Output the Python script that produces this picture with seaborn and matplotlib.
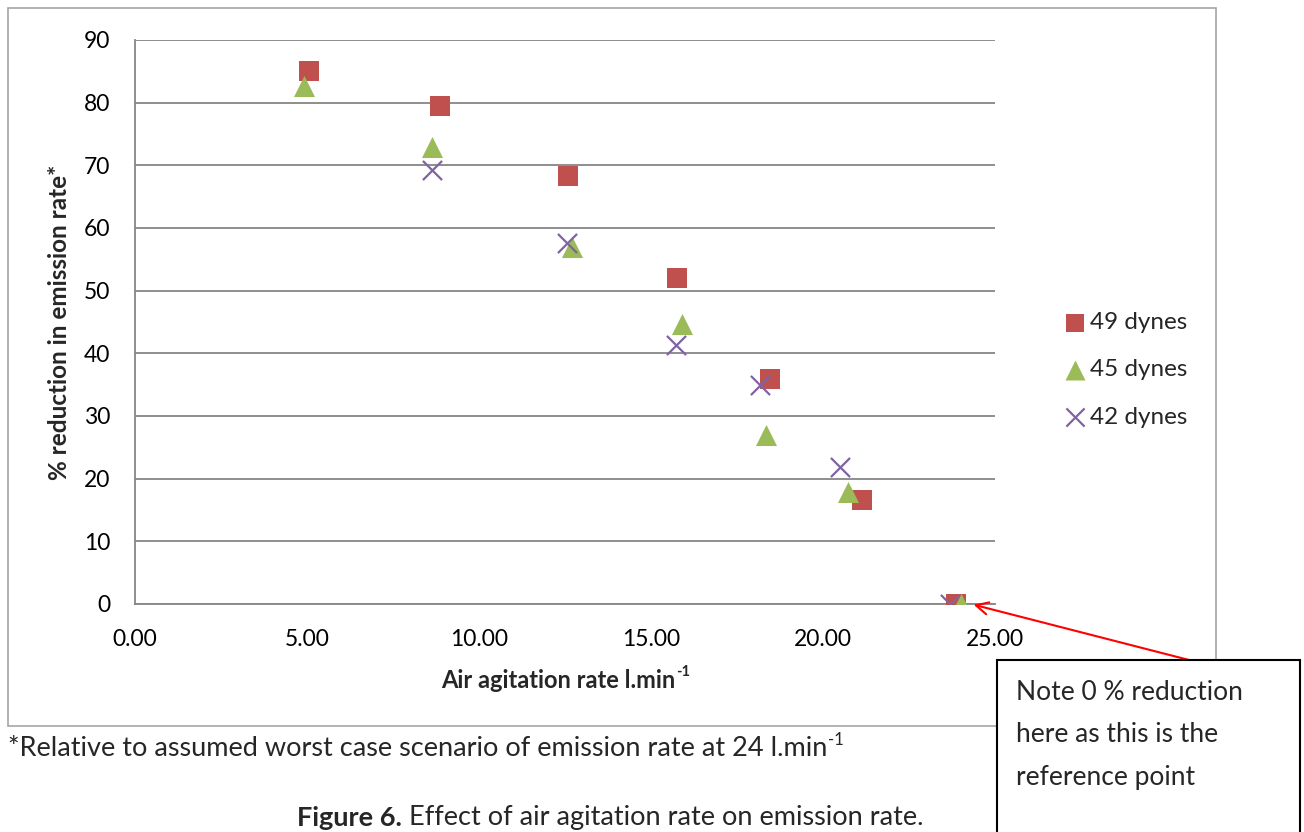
import matplotlib
matplotlib.use("Agg")
import matplotlib.pyplot as plt
from matplotlib.patches import Rectangle
import seaborn as sns
import pandas as pd

# Air agitation rate (l/min) and % reduction in emission rate for each surface tension
x_49 = [5.06, 8.87, 12.59, 15.77, 18.46, 21.12, 23.88]
y_49 = [85.0, 79.5, 68.3, 52.1, 35.9, 16.6, 0.0]
x_45 = [4.91, 8.63, 12.70, 15.91, 18.33, 20.72, 24.00]
y_45 = [82.7, 73.0, 57.0, 44.7, 26.9, 17.8, 0.0]
x_42 = [8.63, 12.55, 15.72, 18.17, 20.49, 23.70]
y_42 = [69.3, 57.6, 41.4, 34.9, 21.9, 0.0]
series_names = ["49 dynes", "45 dynes", "42 dynes"]
x_ticks = [0, 5, 10, 15, 20, 25]
y_ticks = [0, 10, 20, 30, 40, 50, 60, 70, 80, 90]

sns.set_theme(style="white")
plt.rcParams["font.family"] = ["Lato", "DejaVu Sans"]

df = pd.concat([
    pd.DataFrame({"rate": x_49, "reduction": y_49, "series": series_names[0]}),
    pd.DataFrame({"rate": x_45, "reduction": y_45, "series": series_names[1]}),
    pd.DataFrame({"rate": x_42, "reduction": y_42, "series": series_names[2]}),
])

W, H = 1304, 832
fig = plt.figure(figsize=(W / 100, H / 100), dpi=100)
renderer = fig.canvas.get_renderer()
ax = fig.add_axes([135 / W, 1 - 604 / H, (995 - 135) / W, (604 - 40) / H])

palette = {"49 dynes": "#C0504D", "45 dynes": "#9BBB59", "42 dynes": "#8064A2"}
markers = {"49 dynes": "s", "45 dynes": "^", "42 dynes": "x"}
sizes = {"49 dynes": 190, "45 dynes": 230, "42 dynes": 190}
for name in series_names:
    sub = df[df["series"] == name]
    kw = dict(linewidth=1.6) if markers[name] == "x" else dict(linewidth=0)
    sns.scatterplot(data=sub, x="rate", y="reduction", ax=ax, color=palette[name],
                    marker=markers[name], s=sizes[name], label=name, zorder=3, **kw)

ax.set_xlim(0, 25)
ax.set_ylim(0, 90)
ax.set_xticks(x_ticks)
ax.set_xticklabels([f"{v:.2f}" for v in x_ticks])
ax.set_yticks(y_ticks)
ax.tick_params(axis="both", length=0, labelsize=16.5, colors="#000000")
ax.tick_params(axis="y", pad=18)
ax.tick_params(axis="x", pad=18)
ax.yaxis.grid(True, color="#868686", linewidth=1.3)
ax.xaxis.grid(False)
for side in ["top", "right"]:
    ax.spines[side].set_visible(False)
for side in ["left", "bottom"]:
    ax.spines[side].set_color("#868686")
    ax.spines[side].set_linewidth(1.3)
ax.set_xlabel("")
ax.set_ylabel("")


def text_with_sup(x_px, y_px, base, sup, size, weight="normal", align="left"):
    """Draw base text followed by a raised, smaller superscript (positions in pixels from top-left)."""
    t = fig.text(0, 1 - y_px / H, base, ha="left", va="center", fontsize=size, fontweight=weight)
    s = fig.text(0, 1 - (y_px - size * 0.45) / H, sup, ha="left", va="center",
                 fontsize=size * 0.62, fontweight=weight)
    wb = t.get_window_extent(renderer).width
    ws = s.get_window_extent(renderer).width
    start = x_px - (wb + ws) / 2 if align == "center" else x_px
    t.set_x(start / W)
    s.set_x((start + wb + 1) / W)


# Axis titles
text_with_sup(565, 680, "Air agitation rate l.min", "-1", 17, weight="bold", align="center")
fig.text(60 / W, 1 - 322 / H, "% reduction in emission rate*", ha="center", va="center",
         rotation=90, fontsize=17.5, fontweight="bold")

# Legend
handles, labels = ax.get_legend_handles_labels()
leg = ax.legend(handles, labels, loc="upper left", bbox_to_anchor=(1060 / W, 1 - 312 / H),
                bbox_transform=fig.transFigure, frameon=False, fontsize=17.5,
                handletextpad=0.0, labelspacing=1.08, markerscale=0.95, borderaxespad=0,
                borderpad=0, handlelength=1.23)

# Chart area border
fig.patches.append(Rectangle((8 / W, 1 - 726 / H), (1216 - 8) / W, (726 - 8) / H,
                             transform=fig.transFigure, fill=False, edgecolor="#A6A6A6",
                             linewidth=1.2, zorder=0))

# Footnote
text_with_sup(8, 749, "*Relative to assumed worst case scenario of emission rate at 24 l.min", "-1", 19.5)

# Caption: bold figure number followed by regular text, centred as a whole
cap_y = 1 - 818 / H
t_bold = fig.text(0, cap_y, "Figure 6.", ha="left", va="center", fontsize=19.5, fontweight="bold")
t_rest = fig.text(0, cap_y, " Effect of air agitation rate on emission rate.", ha="left", va="center",
                  fontsize=19.5)
wb = t_bold.get_window_extent(renderer).width
wr = t_rest.get_window_extent(renderer).width
x0 = 610 - (wb + wr) / 2
t_bold.set_x(x0 / W)
t_rest.set_x((x0 + wb) / W)

# Note box with arrow to the reference point
fig.patches.append(Rectangle((997 / W, 1 - 900 / H), (1300 - 997) / W, (900 - 660) / H,
                             transform=fig.transFigure, facecolor="white", edgecolor="black",
                             linewidth=1.5, zorder=5))
fig.text(1016 / W, 1 - 693 / H, "Note 0 % reduction", ha="left", va="center", fontsize=19, zorder=6)
fig.text(1016 / W, 1 - 735 / H, "here as this is the", ha="left", va="center", fontsize=19, zorder=6)
fig.text(1016 / W, 1 - 777 / H, "reference point", ha="left", va="center", fontsize=19, zorder=6)
ax.annotate("", xy=(24.3, 0), xycoords="data",
            xytext=(1193 / W, 1 - 661 / H), textcoords="figure fraction",
            arrowprops=dict(arrowstyle="->", color="#FF0000", lw=1.5, mutation_scale=22),
            annotation_clip=False, zorder=7)

fig.savefig("out.png", dpi=100)
